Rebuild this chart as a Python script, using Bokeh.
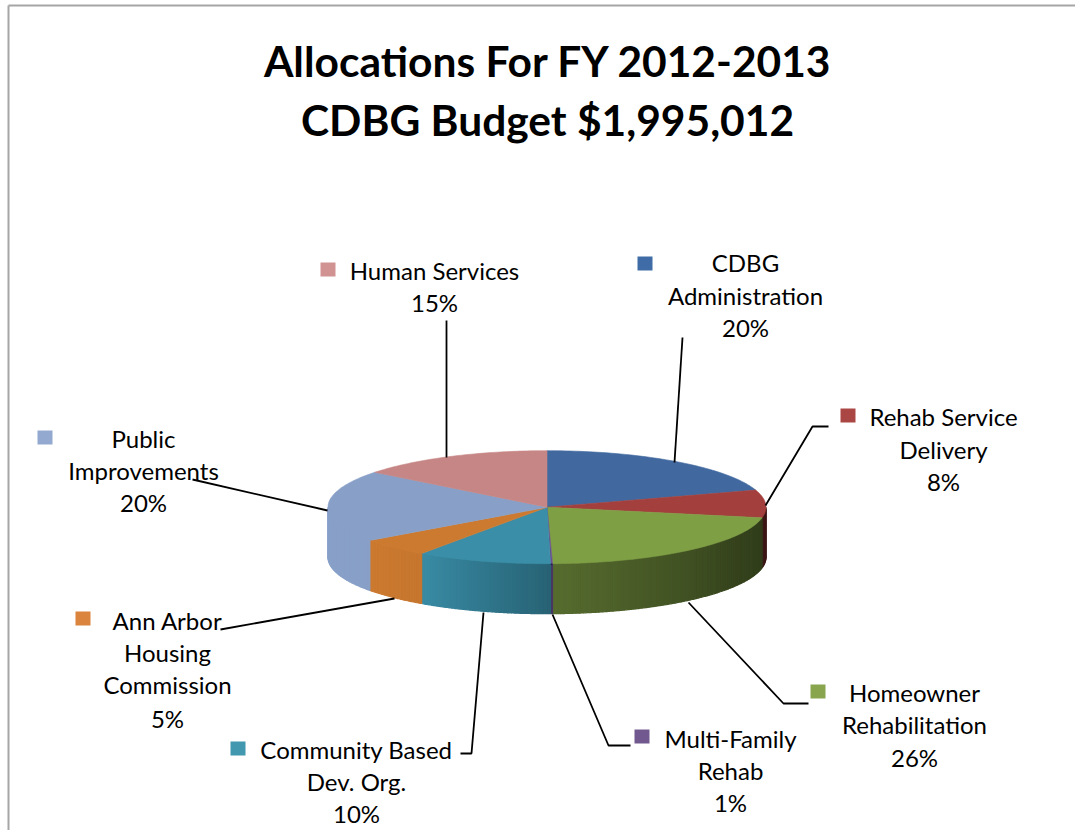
import numpy as np
from bokeh.plotting import figure
from bokeh.embed import file_html
from bokeh.resources import INLINE
from bokeh.core.properties import value
from bokeh.models import Range1d

# ---- data ----
categories = ["CDBG Administration", "Rehab Service Delivery", "Homeowner Rehabilitation",
              "Multi-Family Rehab", "Community Based Dev. Org.", "Ann Arbor Housing Commission",
              "Public Improvements", "Human Services"]
shares = [20.1, 7.9, 21.6, 0.15, 9.95, 5.3, 20.6, 14.4]   # slice sizes as drawn
title_lines = ["Allocations For FY 2012-2013", "CDBG Budget $1,995,012"]
label_lines = [["CDBG", "Administration", "20%"],
               ["Rehab Service", "Delivery", "8%"],
               ["Homeowner", "Rehabilitation", "26%"],
               ["Multi-Family", "Rehab", "1%"],
               ["Community Based", "Dev. Org.", "10%"],
               ["Ann Arbor", "Housing", "Commission", "5%"],
               ["Public", "Improvements", "20%"],
               ["Human Services", "15%"]]

# ---- style and layout ----
colors = ["#41699f", "#a33f3d", "#7f9f45", "#68508f", "#3a8ea8", "#cc7a30", "#88a0c8", "#c68685"]
swatch = ["#3f6ca6", "#aa4643", "#89a54e", "#71588f", "#4198af", "#db843d", "#93a9cf", "#d19392"]
label_cx = [745, 943, 914, 730, 356, 167, 143, 434]
label_y = [[262, 295, 327], [416, 449, 481], [692, 724, 757], [738, 770, 802],
           [749, 781, 813], [620, 652, 684, 718], [438, 470, 502], [270, 302]]
swatch_xy = [(637, 256), (840, 408), (810, 684), (634, 729), (230, 741), (75, 611), (37, 430), (320, 262)]
leaders = [[(682, 337), (674, 462)],
           [(828, 426), (812, 426), (765, 505)],
           [(808, 703), (783, 703), (688, 602)],
           [(630, 745), (608, 745), (552, 614)],
           [(460, 753), (471, 753), (483, 612)],
           [(220, 629), (394, 598)],
           [(192, 479), (327, 510)],
           [(446, 320), (446, 457)]]
CX, CY, RX, RY, DEPTH = 546.5, 506.7, 219, 56.5, 50
shade_t = [90, 120, 150, 178, 182, 213, 233, 270]
shade_f = [.36, .42, .55, .68, .72, .97, 1.0, 1.0]

W, H = 1075, 830
p = figure(width=W, height=H, output_backend="svg", toolbar_location=None,
           x_range=Range1d(0, W), y_range=Range1d(H, 0), min_border=0,
           outline_line_color=None, background_fill_color="white", border_fill_color="white")
p.axis.visible = False
p.grid.visible = False


def ex(t):
    return CX + RX * np.sin(np.radians(t))


def ey(t):
    return CY - RY * np.cos(np.radians(t))


def rgb(c):
    return np.array([int(c[i:i + 2], 16) for i in (1, 3, 5)], dtype=float)


def to_hex(a):
    a = np.clip(a, 0, 255).astype(int)
    return "#%02x%02x%02x" % tuple(a)


edges = np.cumsum([0] + shares) / sum(shares) * 360

# side wall: thin shaded quads across the front half of the pie
wx, wy, wc = [], [], []
for i, c in enumerate(colors):
    a, b = max(edges[i], 90), min(edges[i + 1], 270)
    if b <= a:
        continue
    n = max(int((b - a) / 1.0), 1)
    ts = np.linspace(a, b, n + 1)
    for t0, t1 in zip(ts[:-1], ts[1:]):
        tm = np.linspace(t0, t1, 4)
        wx.append(list(ex(tm)) + list(ex(tm[::-1])))
        wy.append(list(ey(tm)) + list(ey(tm[::-1]) + DEPTH))
        wc.append(to_hex(rgb(c) * np.interp((t0 + t1) / 2, shade_t, shade_f)))
p.patches(wx, wy, fill_color=wc, line_color=wc, line_width=1.2)

# top face
fx, fy = [], []
for i in range(len(shares)):
    ts = np.linspace(edges[i], edges[i + 1], 60)
    fx.append([CX] + list(ex(ts)))
    fy.append([CY] + list(ey(ts)))
p.patches(fx, fy, fill_color=colors, line_color=colors, line_width=0.6)

# leader lines
p.multi_line([[q[0] for q in l] for l in leaders], [[q[1] for q in l] for l in leaders],
             line_color="black", line_width=1.8)

# swatches
p.quad(left=[s[0] for s in swatch_xy], right=[s[0] + 15 for s in swatch_xy],
       top=[s[1] for s in swatch_xy], bottom=[s[1] + 14 for s in swatch_xy],
       fill_color=swatch, line_color=None)

# labels
tx, ty, tt = [], [], []
for cx, ys, lines in zip(label_cx, label_y, label_lines):
    for y, s in zip(ys, lines):
        tx.append(cx); ty.append(y); tt.append(s)
p.text(tx, ty, text=tt, text_font=value("Lato"), text_font_size="24px", text_color="black",
       text_align="center", text_baseline="middle")

# title
p.text([548, 547], [60, 119], text=title_lines, text_font=value("Lato"), text_font_style="bold",
       text_font_size="42.5px", text_color="black", text_align="center", text_baseline="middle")

# chart frame
p.multi_line([[8, 8], [8, 1075]], [[830, 5], [5, 5]], line_color="#a6a6a6", line_width=2)

open("out.html", "w").write(file_html(p, INLINE))
